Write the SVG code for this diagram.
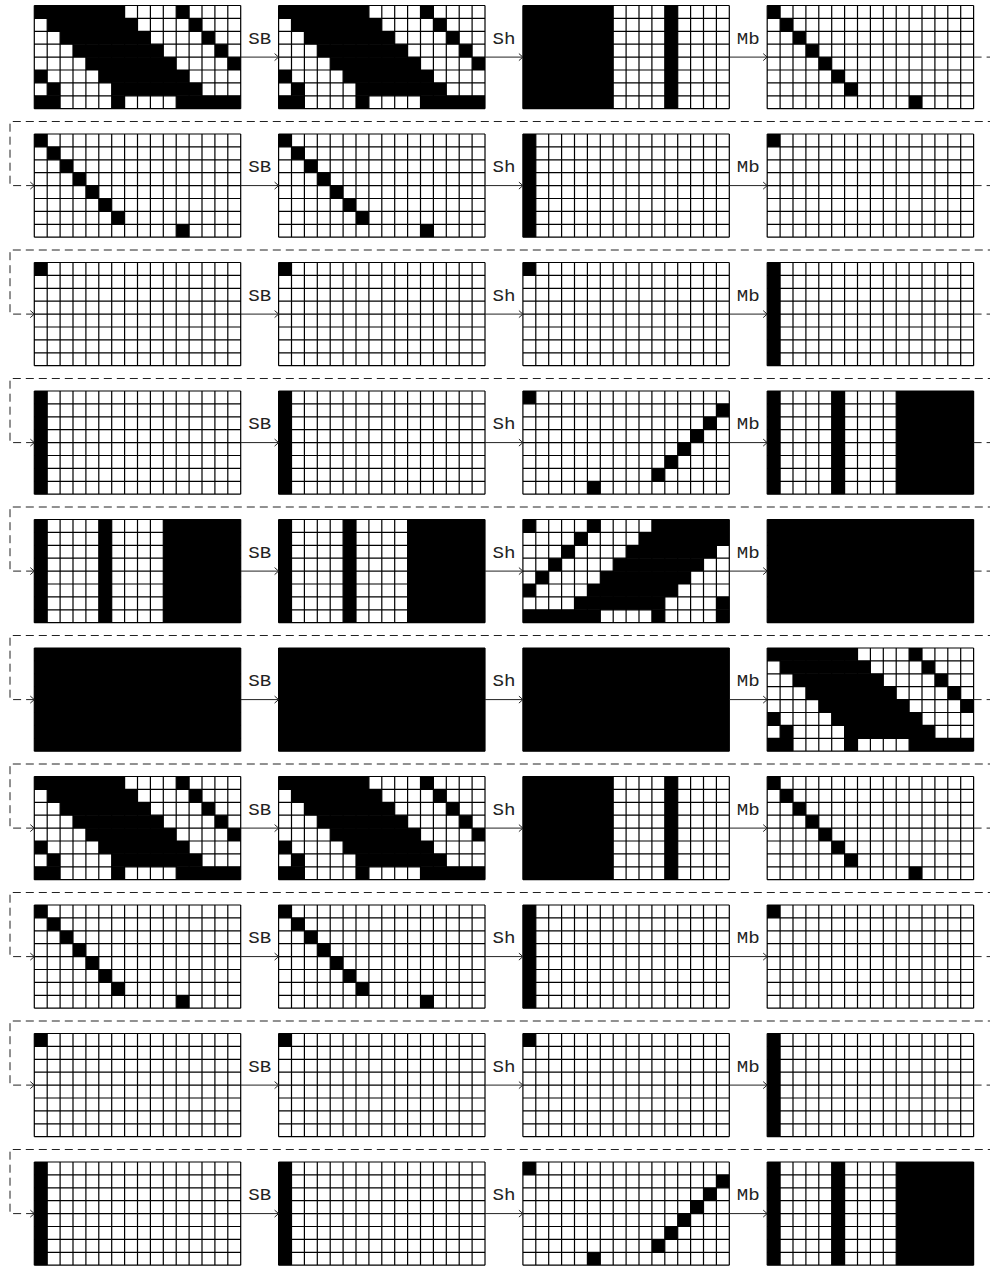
<svg xmlns="http://www.w3.org/2000/svg" width="990" height="1266" viewBox="0 0 990 1266">
<style>
.bg{fill:#fff}
.k{fill:#000}
.ln{stroke:#000;stroke-width:1.2;fill:none}
.arr{stroke:#222;stroke-width:1;fill:none;marker-end:url(#ah)}
.loop{stroke:#222;stroke-width:1;fill:none;stroke-dasharray:8 5;marker-end:url(#ah)}
.lbl{font-family:"Liberation Mono","DejaVu Sans Mono",monospace;font-size:16px;text-anchor:middle;fill:#222}
</style>
<defs>
<marker id="ah" markerUnits="userSpaceOnUse" markerWidth="10" markerHeight="10" viewBox="0 0 10 10" refX="6" refY="5" orient="auto">
<path d="M2,1.5 L6,5 L2,8.5" fill="none" stroke="#222" stroke-width="1"/>
</marker>
<g id="grid">
<rect class="bg" width="206.4" height="103.2"/>
</g>
<path id="lines" class="ln" d="M0 0V103.2M12.9 0V103.2M25.8 0V103.2M38.7 0V103.2M51.6 0V103.2M64.5 0V103.2M77.4 0V103.2M90.3 0V103.2M103.2 0V103.2M116.1 0V103.2M129 0V103.2M141.9 0V103.2M154.8 0V103.2M167.7 0V103.2M180.6 0V103.2M193.5 0V103.2M206.4 0V103.2M0 0H206.4M0 12.9H206.4M0 25.8H206.4M0 38.7H206.4M0 51.6H206.4M0 64.5H206.4M0 77.4H206.4M0 90.3H206.4M0 103.2H206.4"/>
<g id="P1" class="k">
<rect x="0" y="0" width="90.3" height="12.9"/><rect x="141.9" y="0" width="12.9" height="12.9"/>
<rect x="12.9" y="12.9" width="90.3" height="12.9"/><rect x="154.8" y="12.9" width="12.9" height="12.9"/>
<rect x="25.8" y="25.8" width="90.3" height="12.9"/><rect x="167.7" y="25.8" width="12.9" height="12.9"/>
<rect x="38.7" y="38.7" width="90.3" height="12.9"/><rect x="180.6" y="38.7" width="12.9" height="12.9"/>
<rect x="51.6" y="51.6" width="90.3" height="12.9"/><rect x="193.5" y="51.6" width="12.9" height="12.9"/>
<rect x="0" y="64.5" width="12.9" height="12.9"/><rect x="64.5" y="64.5" width="90.3" height="12.9"/>
<rect x="12.9" y="77.4" width="12.9" height="12.9"/><rect x="77.4" y="77.4" width="90.3" height="12.9"/>
<rect x="0" y="90.3" width="25.8" height="12.9"/><rect x="77.4" y="90.3" width="12.9" height="12.9"/><rect x="141.9" y="90.3" width="64.5" height="12.9"/>
</g>
<g id="P3" class="k">
<rect x="0" y="0" width="90.3" height="103.2"/><rect x="141.9" y="0" width="12.9" height="103.2"/>
</g>
<g id="PD" class="k">
<rect x="0" y="0" width="12.9" height="12.9"/><rect x="12.9" y="12.9" width="12.9" height="12.9"/><rect x="25.8" y="25.8" width="12.9" height="12.9"/><rect x="38.7" y="38.7" width="12.9" height="12.9"/><rect x="51.6" y="51.6" width="12.9" height="12.9"/><rect x="64.5" y="64.5" width="12.9" height="12.9"/><rect x="77.4" y="77.4" width="12.9" height="12.9"/><rect x="141.9" y="90.3" width="12.9" height="12.9"/>
</g>
<g id="PC0" class="k"><rect x="0" y="0" width="12.9" height="103.2"/></g>
<g id="PS" class="k"><rect x="0" y="0" width="12.9" height="12.9"/></g>
<g id="PA" class="k">
<rect x="0" y="0" width="12.9" height="12.9"/><rect x="193.5" y="12.9" width="12.9" height="12.9"/><rect x="180.6" y="25.8" width="12.9" height="12.9"/><rect x="167.7" y="38.7" width="12.9" height="12.9"/><rect x="154.8" y="51.6" width="12.9" height="12.9"/><rect x="141.9" y="64.5" width="12.9" height="12.9"/><rect x="129" y="77.4" width="12.9" height="12.9"/><rect x="64.5" y="90.3" width="12.9" height="12.9"/>
</g>
<g id="PST" class="k">
<rect x="0" y="0" width="12.9" height="103.2"/><rect x="64.5" y="0" width="12.9" height="103.2"/><rect x="129" y="0" width="77.4" height="103.2"/>
</g>
<g id="PX" class="k">
<rect x="0" y="0" width="12.9" height="12.9"/><rect x="64.5" y="0" width="12.9" height="12.9"/><rect x="129" y="0" width="77.4" height="12.9"/>
<rect x="51.6" y="12.9" width="12.9" height="12.9"/><rect x="116.1" y="12.9" width="90.3" height="12.9"/>
<rect x="38.7" y="25.8" width="12.9" height="12.9"/><rect x="103.2" y="25.8" width="90.3" height="12.9"/>
<rect x="25.8" y="38.7" width="12.9" height="12.9"/><rect x="90.3" y="38.7" width="90.3" height="12.9"/>
<rect x="12.9" y="51.6" width="12.9" height="12.9"/><rect x="77.4" y="51.6" width="90.3" height="12.9"/>
<rect x="0" y="64.5" width="12.9" height="12.9"/><rect x="64.5" y="64.5" width="90.3" height="12.9"/>
<rect x="51.6" y="77.4" width="90.3" height="12.9"/><rect x="193.5" y="77.4" width="12.9" height="12.9"/>
<rect x="0" y="90.3" width="77.4" height="12.9"/><rect x="129" y="90.3" width="12.9" height="12.9"/><rect x="193.5" y="90.3" width="12.9" height="12.9"/>
</g>
<g id="PB" class="k"><rect x="0" y="0" width="206.4" height="103.2"/></g>
</defs>
<rect width="990" height="1266" fill="#fff"/>

<g id="nodes">
<g id="n1-1" transform="translate(34.3,5.5)"><use href="#grid"/><use href="#P1"/><use href="#lines"/></g>
<g id="n1-2" transform="translate(278.6,5.5)"><use href="#grid"/><use href="#P1"/><use href="#lines"/></g>
<g id="n1-3" transform="translate(522.9,5.5)"><use href="#grid"/><use href="#P3"/><use href="#lines"/></g>
<g id="n1-4" transform="translate(767.2,5.5)"><use href="#grid"/><use href="#PD"/><use href="#lines"/></g>

<g id="n2-1" transform="translate(34.3,134)"><use href="#grid"/><use href="#PD"/><use href="#lines"/></g>
<g id="n2-2" transform="translate(278.6,134)"><use href="#grid"/><use href="#PD"/><use href="#lines"/></g>
<g id="n2-3" transform="translate(522.9,134)"><use href="#grid"/><use href="#PC0"/><use href="#lines"/></g>
<g id="n2-4" transform="translate(767.2,134)"><use href="#grid"/><use href="#PS"/><use href="#lines"/></g>

<g id="n3-1" transform="translate(34.3,262.5)"><use href="#grid"/><use href="#PS"/><use href="#lines"/></g>
<g id="n3-2" transform="translate(278.6,262.5)"><use href="#grid"/><use href="#PS"/><use href="#lines"/></g>
<g id="n3-3" transform="translate(522.9,262.5)"><use href="#grid"/><use href="#PS"/><use href="#lines"/></g>
<g id="n3-4" transform="translate(767.2,262.5)"><use href="#grid"/><use href="#PC0"/><use href="#lines"/></g>

<g id="n4-1" transform="translate(34.3,391)"><use href="#grid"/><use href="#PC0"/><use href="#lines"/></g>
<g id="n4-2" transform="translate(278.6,391)"><use href="#grid"/><use href="#PC0"/><use href="#lines"/></g>
<g id="n4-3" transform="translate(522.9,391)"><use href="#grid"/><use href="#PA"/><use href="#lines"/></g>
<g id="n4-4" transform="translate(767.2,391)"><use href="#grid"/><use href="#PST"/><use href="#lines"/></g>

<g id="n5-1" transform="translate(34.3,519.5)"><use href="#grid"/><use href="#PST"/><use href="#lines"/></g>
<g id="n5-2" transform="translate(278.6,519.5)"><use href="#grid"/><use href="#PST"/><use href="#lines"/></g>
<g id="n5-3" transform="translate(522.9,519.5)"><use href="#grid"/><use href="#PX"/><use href="#lines"/></g>
<g id="n5-4" transform="translate(767.2,519.5)"><use href="#grid"/><use href="#PB"/><use href="#lines"/></g>

<g id="n6-1" transform="translate(34.3,648)"><use href="#grid"/><use href="#PB"/><use href="#lines"/></g>
<g id="n6-2" transform="translate(278.6,648)"><use href="#grid"/><use href="#PB"/><use href="#lines"/></g>
<g id="n6-3" transform="translate(522.9,648)"><use href="#grid"/><use href="#PB"/><use href="#lines"/></g>
<g id="n6-4" transform="translate(767.2,648)"><use href="#grid"/><use href="#P1"/><use href="#lines"/></g>

<g id="n7-1" transform="translate(34.3,776.5)"><use href="#grid"/><use href="#P1"/><use href="#lines"/></g>
<g id="n7-2" transform="translate(278.6,776.5)"><use href="#grid"/><use href="#P1"/><use href="#lines"/></g>
<g id="n7-3" transform="translate(522.9,776.5)"><use href="#grid"/><use href="#P3"/><use href="#lines"/></g>
<g id="n7-4" transform="translate(767.2,776.5)"><use href="#grid"/><use href="#PD"/><use href="#lines"/></g>

<g id="n8-1" transform="translate(34.3,905)"><use href="#grid"/><use href="#PD"/><use href="#lines"/></g>
<g id="n8-2" transform="translate(278.6,905)"><use href="#grid"/><use href="#PD"/><use href="#lines"/></g>
<g id="n8-3" transform="translate(522.9,905)"><use href="#grid"/><use href="#PC0"/><use href="#lines"/></g>
<g id="n8-4" transform="translate(767.2,905)"><use href="#grid"/><use href="#PS"/><use href="#lines"/></g>

<g id="n9-1" transform="translate(34.3,1033.5)"><use href="#grid"/><use href="#PS"/><use href="#lines"/></g>
<g id="n9-2" transform="translate(278.6,1033.5)"><use href="#grid"/><use href="#PS"/><use href="#lines"/></g>
<g id="n9-3" transform="translate(522.9,1033.5)"><use href="#grid"/><use href="#PS"/><use href="#lines"/></g>
<g id="n9-4" transform="translate(767.2,1033.5)"><use href="#grid"/><use href="#PC0"/><use href="#lines"/></g>

<g id="n10-1" transform="translate(34.3,1162)"><use href="#grid"/><use href="#PC0"/><use href="#lines"/></g>
<g id="n10-2" transform="translate(278.6,1162)"><use href="#grid"/><use href="#PC0"/><use href="#lines"/></g>
<g id="n10-3" transform="translate(522.9,1162)"><use href="#grid"/><use href="#PA"/><use href="#lines"/></g>
<g id="n10-4" transform="translate(767.2,1162)"><use href="#grid"/><use href="#PST"/><use href="#lines"/></g>
</g>

<g id="connectors">
<path class="arr" d="M240.7 57.1H278.6"/><path class="arr" d="M485 57.1H522.9"/><path class="arr" d="M729.3 57.1H767.2"/>
<path class="arr" d="M240.7 185.6H278.6"/><path class="arr" d="M485 185.6H522.9"/><path class="arr" d="M729.3 185.6H767.2"/>
<path class="arr" d="M240.7 314.1H278.6"/><path class="arr" d="M485 314.1H522.9"/><path class="arr" d="M729.3 314.1H767.2"/>
<path class="arr" d="M240.7 442.6H278.6"/><path class="arr" d="M485 442.6H522.9"/><path class="arr" d="M729.3 442.6H767.2"/>
<path class="arr" d="M240.7 571.1H278.6"/><path class="arr" d="M485 571.1H522.9"/><path class="arr" d="M729.3 571.1H767.2"/>
<path class="arr" d="M240.7 699.6H278.6"/><path class="arr" d="M485 699.6H522.9"/><path class="arr" d="M729.3 699.6H767.2"/>
<path class="arr" d="M240.7 828.1H278.6"/><path class="arr" d="M485 828.1H522.9"/><path class="arr" d="M729.3 828.1H767.2"/>
<path class="arr" d="M240.7 956.6H278.6"/><path class="arr" d="M485 956.6H522.9"/><path class="arr" d="M729.3 956.6H767.2"/>
<path class="arr" d="M240.7 1085.1H278.6"/><path class="arr" d="M485 1085.1H522.9"/><path class="arr" d="M729.3 1085.1H767.2"/>
<path class="arr" d="M240.7 1213.6H278.6"/><path class="arr" d="M485 1213.6H522.9"/><path class="arr" d="M729.3 1213.6H767.2"/>

<path class="loop" d="M973.6 57.1H998V121.5H10V185.6H34.3"/>
<path class="loop" d="M973.6 185.6H998V250H10V314.1H34.3"/>
<path class="loop" d="M973.6 314.1H998V378.5H10V442.6H34.3"/>
<path class="loop" d="M973.6 442.6H998V507H10V571.1H34.3"/>
<path class="loop" d="M973.6 571.1H998V635.5H10V699.6H34.3"/>
<path class="loop" d="M973.6 699.6H998V764H10V828.1H34.3"/>
<path class="loop" d="M973.6 828.1H998V892.5H10V956.6H34.3"/>
<path class="loop" d="M973.6 956.6H998V1021H10V1085.1H34.3"/>
<path class="loop" d="M973.6 1085.1H998V1149.5H10V1213.6H34.3"/>

<g class="lbl">
<text x="259.65" y="43.5" textLength="23" lengthAdjust="spacingAndGlyphs">SB</text><text x="503.95" y="43.5" textLength="23" lengthAdjust="spacingAndGlyphs">Sh</text><text x="748.25" y="43.5" textLength="23" lengthAdjust="spacingAndGlyphs">Mb</text>
<text x="259.65" y="172" textLength="23" lengthAdjust="spacingAndGlyphs">SB</text><text x="503.95" y="172" textLength="23" lengthAdjust="spacingAndGlyphs">Sh</text><text x="748.25" y="172" textLength="23" lengthAdjust="spacingAndGlyphs">Mb</text>
<text x="259.65" y="300.5" textLength="23" lengthAdjust="spacingAndGlyphs">SB</text><text x="503.95" y="300.5" textLength="23" lengthAdjust="spacingAndGlyphs">Sh</text><text x="748.25" y="300.5" textLength="23" lengthAdjust="spacingAndGlyphs">Mb</text>
<text x="259.65" y="429" textLength="23" lengthAdjust="spacingAndGlyphs">SB</text><text x="503.95" y="429" textLength="23" lengthAdjust="spacingAndGlyphs">Sh</text><text x="748.25" y="429" textLength="23" lengthAdjust="spacingAndGlyphs">Mb</text>
<text x="259.65" y="557.5" textLength="23" lengthAdjust="spacingAndGlyphs">SB</text><text x="503.95" y="557.5" textLength="23" lengthAdjust="spacingAndGlyphs">Sh</text><text x="748.25" y="557.5" textLength="23" lengthAdjust="spacingAndGlyphs">Mb</text>
<text x="259.65" y="686" textLength="23" lengthAdjust="spacingAndGlyphs">SB</text><text x="503.95" y="686" textLength="23" lengthAdjust="spacingAndGlyphs">Sh</text><text x="748.25" y="686" textLength="23" lengthAdjust="spacingAndGlyphs">Mb</text>
<text x="259.65" y="814.5" textLength="23" lengthAdjust="spacingAndGlyphs">SB</text><text x="503.95" y="814.5" textLength="23" lengthAdjust="spacingAndGlyphs">Sh</text><text x="748.25" y="814.5" textLength="23" lengthAdjust="spacingAndGlyphs">Mb</text>
<text x="259.65" y="943" textLength="23" lengthAdjust="spacingAndGlyphs">SB</text><text x="503.95" y="943" textLength="23" lengthAdjust="spacingAndGlyphs">Sh</text><text x="748.25" y="943" textLength="23" lengthAdjust="spacingAndGlyphs">Mb</text>
<text x="259.65" y="1071.5" textLength="23" lengthAdjust="spacingAndGlyphs">SB</text><text x="503.95" y="1071.5" textLength="23" lengthAdjust="spacingAndGlyphs">Sh</text><text x="748.25" y="1071.5" textLength="23" lengthAdjust="spacingAndGlyphs">Mb</text>
<text x="259.65" y="1200" textLength="23" lengthAdjust="spacingAndGlyphs">SB</text><text x="503.95" y="1200" textLength="23" lengthAdjust="spacingAndGlyphs">Sh</text><text x="748.25" y="1200" textLength="23" lengthAdjust="spacingAndGlyphs">Mb</text>
</g>
</g>
</svg>
